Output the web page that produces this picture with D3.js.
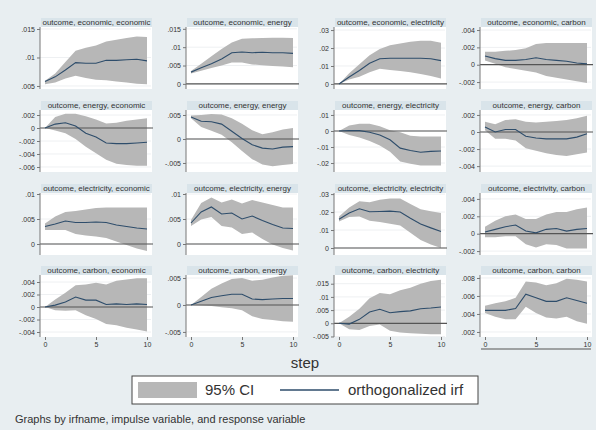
<!DOCTYPE html>
<html>
<head>
<meta charset="utf-8">
<script src="https://cdn.jsdelivr.net/npm/d3@7"></script>
<style>
  body { margin: 0; background: #e8eef1; }
  text { font-family: "Liberation Sans", Arial, sans-serif; fill: #333; }
</style>
</head>
<body>
<script>
var width = 596, height = 430;

// panel titles (row by row)
var titles = [
  "outcome, economic, economic", "outcome, economic, energy", "outcome, economic, electricity", "outcome, economic, carbon",
  "outcome, energy, economic", "outcome, energy, energy", "outcome, energy, electricity", "outcome, energy, carbon",
  "outcome, electricity, economic", "outcome, electricity, energy", "outcome, electricity, electricity", "outcome, electrivity, carbon",
  "outcome, carbon, economic", "outcome, carbon, energy", "outcome, carbon, electricity", "outcome, carbon, carbon"
];

var steps = [0, 1, 2, 3, 4, 5, 6, 7, 8, 9, 10];
var xTicks = [0, 5, 10];

// orthogonalized irf
var irf = [
  [.0058, .0066, .0078, .0091, .0090, .0090, .0095, .0095, .0096, .0097, .0094],
  [.0032, .0044, .0055, .0068, .0085, .0087, .0085, .0086, .0085, .0085, .0083],
  [0, .0039, .0075, .0115, .0140, .0143, .0143, .0143, .0143, .0140, .0130],
  [.0010, .0007, .0005, .0005, .0006, .0008, .0006, .0005, .0004, .0002, .0001],
  [0, .0006, .0008, .0003, -.0008, -.0014, -.0023, -.0024, -.0024, -.0023, -.0022],
  [.0046, .0037, .0036, .0031, .0016, .0001, -.0012, -.0019, -.0021, -.0017, -.0016],
  [0, .0003, .0002, -.0008, -.0025, -.0055, -.0107, -.0122, -.0133, -.0127, -.0125],
  [.0006, .0000, .0003, .0003, -.0005, -.0007, -.0008, -.0008, -.0008, -.0006, -.0002],
  [.0035, .0040, .0046, .0043, .0043, .0044, .0043, .0038, .0035, .0032, .0030],
  [.0042, .0064, .0074, .0060, .0062, .0050, .0056, .0047, .0039, .0032, .0031],
  [.0160, .0195, .0218, .0202, .0203, .0205, .0200, .0165, .0133, .0112, .0092],
  [.0002, .0005, .0008, .0010, .0003, .0001, .0005, .0006, .0003, .0005, .0006],
  [0, .0003, .0008, .0016, .0011, .0011, .0004, .0005, .0004, .0005, .0004],
  [0, .0007, .0014, .0017, .0020, .0020, .0011, .0010, .0011, .0012, .0012],
  [0, -.0003, .0015, .0043, .0053, .0040, .0044, .0047, .0055, .0058, .0062],
  [.0044, .0044, .0044, .0046, .0062, .0058, .0054, .0054, .0058, .0055, .0052]
];

// 95% CI lower bound
var lower = [
  [.0053, .0056, .0063, .0068, .0064, .0061, .0060, .0058, .0056, .0054, .0053],
  [.0028, .0036, .0043, .0050, .0058, .0058, .0053, .0051, .0049, .0047, .0045],
  [0, .0025, .0040, .0065, .0085, .0078, .0072, .0065, .0055, .0045, .0030],
  [.0005, .0001, -.0003, -.0005, -.0007, -.0009, -.0013, -.0015, -.0017, -.0019, -.0021],
  [0, -.0004, -.0008, -.0017, -.0029, -.0039, -.0049, -.0055, -.0057, -.0058, -.0058],
  [.0043, .0025, .0017, .0009, -.0007, -.0025, -.0042, -.0053, -.0057, -.0054, -.0052],
  [0, -.0025, -.0040, -.0063, -.0090, -.0130, -.0190, -.0205, -.0215, -.0215, -.0215],
  [.0002, -.0008, -.0008, -.0010, -.0019, -.0022, -.0025, -.0027, -.0028, -.0026, -.0024],
  [.0028, .0028, .0028, .0020, .0017, .0015, .0012, .0005, -.0002, -.0009, -.0014],
  [.0036, .0049, .0054, .0036, .0033, .0020, .0023, .0010, -.0001, -.0008, -.0013],
  [.0148, .0172, .0175, .0152, .0145, .0135, .0125, .0085, .0045, .0020, .0000],
  [-.0004, -.0004, -.0003, -.0003, -.0012, -.0016, -.0012, -.0013, -.0017, -.0017, -.0017],
  [0, -.0005, -.0006, -.0005, -.0013, -.0019, -.0027, -.0029, -.0033, -.0036, -.0039],
  [0, -.0001, -.0002, -.0004, -.0006, -.0010, -.0021, -.0026, -.0028, -.0030, -.0031],
  [0, -.0023, -.0025, -.0010, -.0005, -.0028, -.0035, -.0038, -.0040, -.0042, -.0042],
  [.0041, .0037, .0034, .0034, .0048, .0041, .0036, .0035, .0037, .0032, .0029]
];

// 95% CI upper bound
var upper = [
  [.0059, .0072, .0092, .0112, .0117, .0121, .0128, .0131, .0134, .0137, .0136],
  [.0035, .0055, .0075, .0095, .0113, .0123, .0124, .0125, .0126, .0126, .0125],
  [0, .0060, .0110, .0160, .0195, .0215, .0225, .0235, .0240, .0240, .0230],
  [.0015, .0015, .0016, .0017, .0019, .0024, .0025, .0025, .0025, .0025, .0025],
  [0, .0017, .0022, .0022, .0018, .0013, .0007, .0008, .0011, .0013, .0015],
  [.0049, .0050, .0052, .0051, .0043, .0032, .0018, .0010, .0014, .0020, .0023],
  [0, .0035, .0045, .0045, .0030, .0005, -.0008, -.0030, -.0035, -.0035, -.0035],
  [.0012, .0009, .0014, .0015, .0012, .0011, .0012, .0013, .0014, .0016, .0019],
  [.0041, .0055, .0064, .0066, .0069, .0072, .0073, .0073, .0073, .0073, .0073],
  [.0048, .0082, .0093, .0083, .0089, .0081, .0088, .0083, .0078, .0073, .0073],
  [.0175, .0225, .0260, .0255, .0268, .0275, .0275, .0245, .0215, .0205, .0195],
  [.0008, .0015, .0020, .0022, .0017, .0017, .0022, .0025, .0025, .0028, .0030],
  [0, .0012, .0023, .0035, .0036, .0039, .0036, .0042, .0044, .0046, .0046],
  [0, .0015, .0030, .0040, .0048, .0050, .0045, .0047, .0051, .0054, .0055],
  [0, .0025, .0055, .0095, .0115, .0110, .0125, .0135, .0150, .0160, .0165],
  [.0049, .0052, .0054, .0058, .0076, .0075, .0072, .0074, .0079, .0078, .0076]
];

// y tick labels per panel
var yTicks = [
  [.005, .01, .015], [0, .005, .01, .015], [0, .01, .02, .03], [-.002, 0, .002, .004],
  [-.006, -.004, -.002, 0, .002], [-.005, 0, .005], [-.02, -.01, 0, .01], [-.004, -.002, 0, .002],
  [0, .005, .01], [0, .005, .01], [0, .01, .02, .03], [-.002, 0, .002, .004],
  [-.004, -.002, 0, .002, .004], [-.005, 0, .005], [-.005, 0, .005, .01, .015], [.002, .004, .006, .008]
];

// y axis range per panel [min, max]
var yRange = [
  [.00447, .01535], [-.0014, .0155], [-.0028, .0317], [-.0028, .00435],
  [-.00677, .00277], [-.00688, .00604], [-.0256, .0131], [-.00469, .00258],
  [-.0022, .0102], [-.0022, .0102], [-.0039, .0306], [-.00245, .00468],
  [-.0048, .00512], [-.00594, .00556], [-.0052, .0183], [.00144, .00833]
];

var colX = [40, 186, 334, 480], rowY = [27, 110, 193, 275];
var plotW = 111, plotH = 62, stripH = 9;
var bandColor = "#b7b7b7", lineColor = "#2e4d6b";

function fmt(v) {
  if (v === 0) return "0";
  return String(+v.toFixed(4)).replace(/^(-?)0\./, "$1.");
}

var svg = d3.select("body")
    .append("svg")
    .attr("width", width)
    .attr("height", height);

svg.append("rect").attr("width", width).attr("height", height).attr("fill", "#e8eef1");

titles.forEach(function(t, i) {
  var r = Math.floor(i / 4), c = i % 4;
  var x0 = colX[c], y0 = rowY[r];

  var x = d3.scaleLinear().domain([0, 10]).range([x0 + 5, x0 + 107]);
  var y = d3.scaleLinear().domain(yRange[i]).range([y0 + plotH, y0]);

  var g = svg.append("g");

  // title strip
  g.append("rect")
    .attr("x", x0 + 1).attr("y", y0 - stripH)
    .attr("width", plotW).attr("height", stripH)
    .attr("fill", "#d9e4ea");
  g.append("text")
    .attr("x", x0 + 1 + plotW / 2).attr("y", y0 - 2)
    .attr("text-anchor", "middle")
    .style("font-size", "8px")
    .text(t);

  // plot region
  g.append("rect")
    .attr("x", x0).attr("y", y0)
    .attr("width", plotW + 1).attr("height", plotH)
    .attr("fill", "#fff");

  // faint grid
  g.selectAll(".grid")
    .data(yTicks[i])
  .enter().append("line")
    .attr("x1", x0).attr("x2", x0 + plotW)
    .attr("y1", function(d) { return y(d); })
    .attr("y2", function(d) { return y(d); })
    .attr("stroke", "#eef0f2").attr("stroke-width", 1);

  var pts = steps.map(function(s, k) { return { s: s, irf: irf[i][k], lo: lower[i][k], hi: upper[i][k] }; });

  g.append("path")
    .datum(pts)
    .attr("fill", bandColor)
    .attr("d", d3.area()
      .x(function(d) { return x(d.s); })
      .y0(function(d) { return y(d.lo); })
      .y1(function(d) { return y(d.hi); }));

  // zero line
  if (yRange[i][0] < 0 && yRange[i][1] > 0) {
    g.append("line")
      .attr("x1", x0).attr("x2", x0 + plotW + 2)
      .attr("y1", y(0)).attr("y2", y(0))
      .attr("stroke", "#555").attr("stroke-width", 1.2);
  }

  g.append("path")
    .datum(pts)
    .attr("fill", "none")
    .attr("stroke", lineColor)
    .attr("stroke-width", 1.1)
    .attr("d", d3.line()
      .x(function(d) { return x(d.s); })
      .y(function(d) { return y(d.irf); }));

  // y axis
  var ya = g.append("g")
    .attr("transform", "translate(" + x0 + ",0)")
    .call(d3.axisLeft(y).tickValues(yTicks[i]).tickFormat(fmt).tickSize(3).tickPadding(2));
  ya.select(".domain").attr("d", "M0," + y0 + "V" + (y0 + plotH)).attr("stroke", "#777");
  ya.selectAll(".tick line").attr("stroke", "#777");
  ya.selectAll("text").style("font-size", "7px").style("font-family", "Liberation Sans, Arial, sans-serif").attr("fill", "#333");

  // x axis on bottom row only
  if (r === 3) {
    var xa = g.append("g")
      .attr("transform", "translate(0," + (y0 + plotH) + ")")
      .call(d3.axisBottom(x).tickValues(xTicks).tickSize(3).tickPadding(2));
    xa.select(".domain").remove();
    xa.selectAll(".tick line").attr("stroke", "#777");
    xa.selectAll("text").style("font-size", "7px").style("font-family", "Liberation Sans, Arial, sans-serif").attr("fill", "#333");
  }
});

// underline under last panel
svg.append("line")
  .attr("x1", 481).attr("x2", 591)
  .attr("y1", 349).attr("y2", 349)
  .attr("stroke", "#555").attr("stroke-width", 1.2);

// x title
svg.append("text")
  .attr("x", 305).attr("y", 368)
  .attr("text-anchor", "middle")
  .style("font-size", "15px")
  .text("step");

// legend
var leg = svg.append("g");
leg.append("rect")
  .attr("x", 132).attr("y", 376).attr("width", 346).attr("height", 28)
  .attr("fill", "#fff").attr("stroke", "#444").attr("stroke-width", 1);
leg.append("rect")
  .attr("x", 138).attr("y", 382).attr("width", 59).attr("height", 16)
  .attr("fill", bandColor);
leg.append("text")
  .attr("x", 205).attr("y", 395)
  .style("font-size", "15px")
  .text("95% CI");
leg.append("line")
  .attr("x1", 280).attr("x2", 339).attr("y1", 390).attr("y2", 390)
  .attr("stroke", lineColor).attr("stroke-width", 1.3);
leg.append("text")
  .attr("x", 348).attr("y", 395)
  .style("font-size", "15px")
  .text("orthogonalized irf");

svg.append("text")
  .attr("x", 15).attr("y", 423)
  .style("font-size", "11px")
  .text("Graphs by irfname, impulse variable, and response variable");
</script>
</body>
</html>
